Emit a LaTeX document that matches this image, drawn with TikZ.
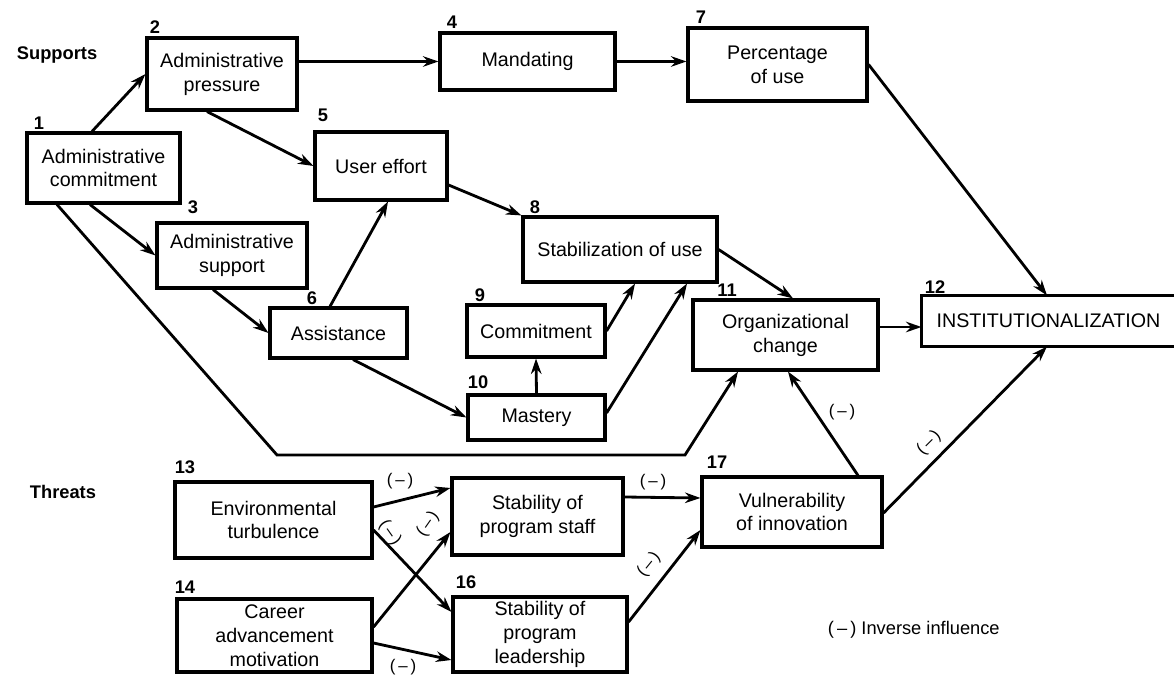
\documentclass[tikz,border=0pt]{standalone}
\usepackage{fontspec}
\setmainfont{Liberation Sans}
\usetikzlibrary{arrows.meta}

\tikzset{
  boite/.style={draw, line width=2.2pt, align=center, inner sep=0pt,
    font=\fontsize{14}{17}\selectfont},
  num/.style={font=\bfseries\fontsize{13}{15}\selectfont},
  titre/.style={anchor=west, font=\bfseries\fontsize{13}{15}\selectfont},
  moins/.style={font=\fontsize{12}{14}\selectfont, inner sep=1pt},
  fl/.style={line width=2pt, ->, >={Stealth[length=11pt, width=7.5pt]}},
}

\begin{document}
\begin{tikzpicture}[x=0.25mm, y=-0.25mm]
  \useasboundingbox (0,0) rectangle (1174,676);

  % Titres des deux parties
  \node[titre] (sup) at (12,55) {Supports};
  \node[titre] (thr) at (25,492) {Threats};

  % Boites des soutiens
  \node[boite, minimum width=38.25mm, minimum height=17.5mm] (n1) at (103.5,168) {Administrative\\commitment};
  \node[boite, minimum width=37.5mm, minimum height=18mm] (n2) at (222,74) {Administrative\\pressure};
  \node[boite, minimum width=37.5mm, minimum height=16.25mm] (n3) at (232,255.5) {Administrative\\support};
  \node[boite, minimum width=43.75mm, minimum height=14.25mm] (n4) at (527.5,61.5) {Mandating};
  \node[boite, minimum width=33mm, minimum height=17mm] (n5) at (381,166) {User effort};
  \node[boite, minimum width=34.25mm, minimum height=12.5mm] (n6) at (338.5,333) {Assistance};
  \node[boite, minimum width=44.75mm, minimum height=18.25mm] (n7) at (777.5,64.5) {Percentage\\of use};
  \node[boite, minimum width=48.5mm, minimum height=16.25mm] (n8) at (620,249.5) {Stabilization of use};
  \node[boite, minimum width=34.5mm, minimum height=13mm] (n9) at (536,331) {Commitment};
  \node[boite, minimum width=34.25mm, minimum height=11.25mm] (n10) at (536.5,417.5) {Mastery};
  \node[boite, minimum width=46.25mm, minimum height=17.5mm] (n11) at (785.5,335) {Organizational\\change};
  \node[boite, draw=none, minimum width=62.75mm, minimum height=12mm] (n12) at (1048.5,321) {INSTITUTIONALIZATION};
  \draw[line width=2.2pt] (n12.north east) -- (n12.north west) -- (n12.south west) -- (n12.south east);

  % Boites des menaces
  \node[boite, minimum width=49.25mm, minimum height=19mm] (n13) at (273.5,520) {Environmental\\turbulence};
  \node[boite, minimum width=48.75mm, minimum height=18.25mm] (n14) at (274.5,635.5) {Career\\advancement\\motivation};
  \node[boite, minimum width=42.75mm, minimum height=19.25mm] (n15) at (537.5,516.5) {Stability of\\program staff};
  \node[boite, minimum width=43.5mm, minimum height=18.75mm] (n16) at (540,634.5) {Stability of\\program\\leadership};
  \node[boite, minimum width=45mm, minimum height=17.5mm] (n17) at (792,512) {Vulnerability\\of innovation};

  % Numeros des boites
  \node[num] (l1) at (39,123) {1};
  \node[num] (l2) at (155,27) {2};
  \node[num] (l3) at (193,207) {3};
  \node[num] (l4) at (452,22) {4};
  \node[num] (l5) at (323,115) {5};
  \node[num] (l6) at (312,298) {6};
  \node[num] (l7) at (701,17) {7};
  \node[num] (l8) at (535,207) {8};
  \node[num] (l9) at (480,295) {9};
  \node[num] (l10) at (478,382) {10};
  \node[num] (l11) at (727,290) {11};
  \node[num] (l12) at (935,287) {12};
  \node[num] (l13) at (185,467) {13};
  \node[num] (l14) at (185,587) {14};
  \node[num] (l16) at (466,582) {16};
  \node[num] (l17) at (717,462) {17};

  % Fleches des soutiens
  \draw[fl] (92,0 |- n1.north) -- (n2.west);
  \draw[fl] (90,0 |- n1.south) -- (n3.west);
  \coordinate (c1) at (277,455);
  \coordinate (c2) at (685,455);
  \draw[fl] (57,0 |- n1.south) -- (c1) -- (c2) -- (738,0 |- n11.south);
  \draw[fl] (n2.east |- n4.west) -- (n4.west);
  \draw[fl] (n4.east) -- (n7.west |- n4.east);
  \draw[fl] (207,0 |- n2.south) -- (n5.west);
  \draw[fl] (n7.east) -- (1047,0 |- n12.north);
  \draw[fl] (n5.east |- 0,185) -- (n8.north west);
  \draw[fl] (213,0 |- n3.south) -- (n6.west);
  \draw[fl] (330,0 |- n6.north) -- (388,0 |- n5.south);
  \draw[fl] (353,0 |- n6.south) -- (n10.west);
  \draw[fl] (n10.north) -- (n9.south);
  \draw[fl] (n9.east) -- (635,0 |- n8.south);
  \draw[fl] (n10.east |- 0,413) -- (687,0 |- n8.south);
  \draw[fl] (n8.east) -- (793,0 |- n11.north);
  \draw[fl] (n11.east |- 0,327) -- (n12.west |- 0,327);

  % Fleches des menaces
  \draw[fl] (n13.east |- 0,507) -- (n15.west |- 0,488);
  \draw[fl] (n13.east |- 0,530) -- (n16.west |- 0,612);
  \draw[fl] (n14.east |- 0,627) -- (n15.west |- 0,532);
  \draw[fl] (n14.east |- 0,643) -- (n16.west |- 0,660);
  \draw[fl] (n15.east |- 0,497) -- (n17.west |- 0,498);
  \draw[fl] (n16.east |- 0,622) -- (n17.west |- 0,530);
  \draw[fl] (858,0 |- n17.north) -- (788,0 |- n11.south);
  \draw[fl] (n17.east |- 0,513) -- (1047,0 |- n12.south);

  % Signes d'influence inverse
  \node[moins] (m1) at (400,481) {(\,--\,)};
  \node[moins, rotate=-55] (m2) at (390,533) {(\,--\,)};
  \node[moins, rotate=55] (m3) at (428,524) {(\,--\,)};
  \node[moins] (m4) at (403,667) {(\,--\,)};
  \node[moins] (m5) at (653,482) {(\,--\,)};
  \node[moins, rotate=51] (m6) at (649,565) {(\,--\,)};
  \node[moins] (m7) at (842,412) {(\,--\,)};
  \node[moins, rotate=45] (m8) at (929,443) {(\,--\,)};

  % Legende
  \node[anchor=west, font=\fontsize{13}{15}\selectfont] (leg) at (823,630) {(\,--\,) Inverse influence};
\end{tikzpicture}
\end{document}
